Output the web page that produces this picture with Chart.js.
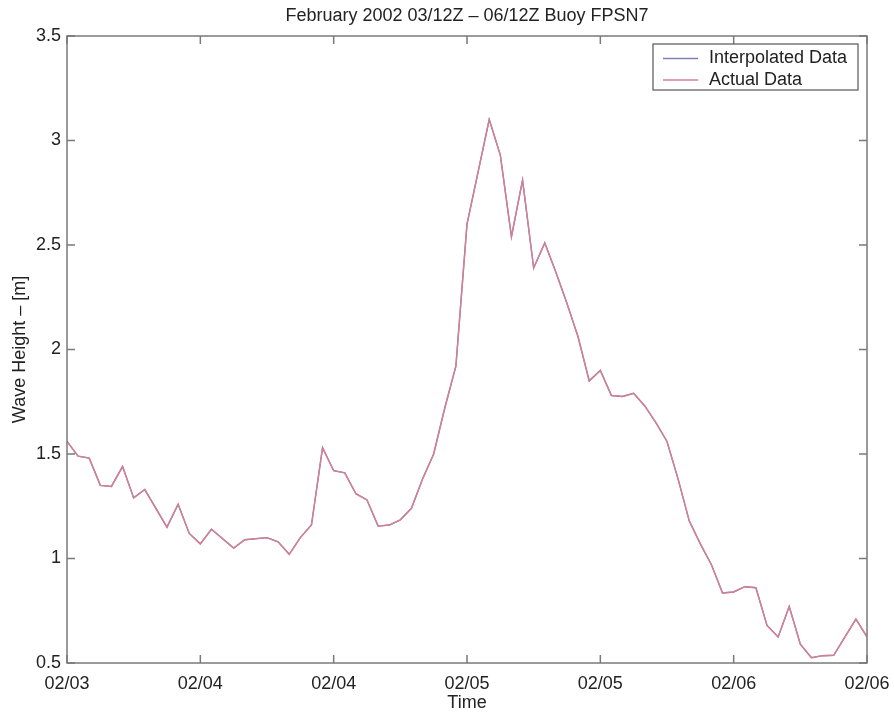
<!DOCTYPE html>
<html>
<head>
<meta charset="utf-8">
<title>Buoy FPSN7 wave height</title>
<script src="https://cdn.jsdelivr.net/npm/chart.js@4/dist/chart.umd.min.js"></script>
<style>
  html, body { margin: 0; padding: 0; background: #fff; }
  #wrap { width: 894px; height: 716px; }
</style>
</head>
<body>
<div id="wrap"><canvas id="waveChart" width="894" height="716"></canvas></div>
<script>
// hours after 02/03 12Z, and wave height [m]
var hours = [0, 1, 2, 3, 4, 5, 6, 7, 9, 10, 11, 12, 13, 15, 16, 18, 19, 20, 21, 22,
  23, 24, 25, 26, 27, 28, 29, 30, 31, 32, 33, 34, 35, 36, 37, 38, 39, 40, 41, 42,
  43, 44, 45, 46, 47, 48, 49, 50, 51, 52, 53, 54, 55, 56, 57, 58, 59, 60, 61, 62,
  63, 64, 65, 66, 67, 68, 69, 71, 72];
var waveHeight = [1.56, 1.49, 1.48, 1.35, 1.345, 1.44, 1.29, 1.33, 1.15, 1.26, 1.12, 1.07, 1.14, 1.05, 1.09, 1.10, 1.08, 1.02, 1.10, 1.16,
  1.53, 1.42, 1.41, 1.31, 1.28, 1.155, 1.16, 1.185, 1.24, 1.38, 1.50, 1.72, 1.92, 2.60, 2.85, 3.10, 2.93, 2.54, 2.81, 2.39,
  2.51, 2.37, 2.22, 2.06, 1.85, 1.90, 1.78, 1.775, 1.79, 1.73, 1.65, 1.56, 1.38, 1.18, 1.07, 0.97, 0.835, 0.84, 0.865, 0.86,
  0.68, 0.625, 0.77, 0.59, 0.525, 0.535, 0.537, 0.71, 0.625];

var xTickHours = [0, 12, 24, 36, 48, 60, 72];
var xTickLabels = ["02/03", "02/04", "02/04", "02/05", "02/05", "02/06", "02/06"];
var yTickValues = [0.5, 1, 1.5, 2, 2.5, 3, 3.5];

var TITLE = "February 2002 03/12Z \u2013 06/12Z Buoy FPSN7";
var FONT = "'Liberation Sans', Arial, Helvetica, sans-serif";
var AXIS_COLOR = "#7a7a7a";

function toPoints(xs, ys) {
  var pts = [];
  for (var i = 0; i < xs.length; i++) pts.push({ x: xs[i], y: ys[i] });
  return pts;
}

// title centred over the axes, not over the canvas
var axesTitle = {
  id: "axesTitle",
  afterDraw: function (chart) {
    var ctx = chart.ctx, a = chart.chartArea;
    ctx.save();
    ctx.font = "18px " + FONT;
    ctx.fillStyle = "#222";
    ctx.textAlign = "center";
    ctx.textBaseline = "middle";
    ctx.fillText(TITLE, (a.left + a.right) / 2, 16);
    ctx.restore();
  }
};

// box round the plot area with inward ticks on all four sides
var boxAxes = {
  id: "boxAxes",
  afterDatasetsDraw: function (chart) {
    var ctx = chart.ctx, a = chart.chartArea;
    var xs = chart.scales.x, ys = chart.scales.y;
    var len = 8;
    ctx.save();
    ctx.strokeStyle = AXIS_COLOR;
    ctx.lineWidth = 1.5;
    ctx.strokeRect(a.left, a.top, a.right - a.left, a.bottom - a.top);
    ctx.beginPath();
    for (var i = 0; i < xTickHours.length; i++) {
      var px = xs.getPixelForValue(xTickHours[i]);
      ctx.moveTo(px, a.bottom); ctx.lineTo(px, a.bottom - len);
      ctx.moveTo(px, a.top); ctx.lineTo(px, a.top + len);
    }
    for (var j = 0; j < yTickValues.length; j++) {
      var py = ys.getPixelForValue(yTickValues[j]);
      ctx.moveTo(a.left, py); ctx.lineTo(a.left + len, py);
      ctx.moveTo(a.right, py); ctx.lineTo(a.right - len, py);
    }
    ctx.stroke();
    ctx.restore();
  }
};

// MATLAB style legend with a frame, top right inside the axes
var boxLegend = {
  id: "boxLegend",
  afterDraw: function (chart) {
    var ctx = chart.ctx, a = chart.chartArea;
    var sets = chart.data.datasets;
    var w = 205, rowH = 21.5;
    var h = 46;
    var x0 = a.right - 9 - w, y0 = a.top + 8;
    ctx.save();
    ctx.fillStyle = "#fff";
    ctx.fillRect(x0, y0, w, h);
    ctx.strokeStyle = "#555";
    ctx.lineWidth = 1.2;
    ctx.strokeRect(x0, y0, w, h);
    ctx.font = "18px " + FONT;
    ctx.textBaseline = "middle";
    ctx.textAlign = "left";
    for (var i = 0; i < sets.length; i++) {
      var cy = y0 + 14.5 + i * rowH;
      ctx.strokeStyle = sets[i].borderColor;
      ctx.lineWidth = 1.3;
      ctx.beginPath();
      ctx.moveTo(x0 + 10, cy);
      ctx.lineTo(x0 + 45, cy);
      ctx.stroke();
      ctx.fillStyle = "#222";
      ctx.fillText(sets[i].label, x0 + 56, cy);
    }
    ctx.restore();
  }
};

Chart.defaults.font.family = FONT;
Chart.defaults.color = "#222";

new Chart(document.getElementById("waveChart"), {
  type: "line",
  data: {
    datasets: [
      {
        label: "Interpolated Data",
        data: toPoints(hours, waveHeight),
        borderColor: "#7f7fb8",
        borderWidth: 1.4,
        pointRadius: 0,
        tension: 0,
        order: 2
      },
      {
        label: "Actual Data",
        data: toPoints(hours, waveHeight),
        borderColor: "#d67f92",
        borderWidth: 1.4,
        pointRadius: 0,
        tension: 0,
        order: 1
      }
    ]
  },
  options: {
    responsive: false,
    animation: false,
    layout: { padding: { left: 0, right: 27, top: 36, bottom: 0 } },
    plugins: {
      legend: { display: false },
      tooltip: { enabled: false },
      title: { display: false }
    },
    scales: {
      x: {
        type: "linear",
        min: 0,
        max: 72,
        grid: { display: false, drawTicks: false },
        border: { display: false },
        afterBuildTicks: function (s) {
          s.ticks = xTickHours.map(function (v) { return { value: v }; });
        },
        afterFit: function (s) {
          s.height = 53;
          s.paddingLeft = 0;
          s.paddingRight = 0;
        },
        ticks: {
          padding: 10,
          maxRotation: 0,
          autoSkip: false,
          font: { size: 18 },
          color: "#222",
          callback: function (v) {
            var k = xTickHours.indexOf(v);
            return k < 0 ? "" : xTickLabels[k];
          }
        },
        title: {
          display: true,
          text: "Time",
          font: { size: 18 },
          color: "#222",
          padding: { top: 0, bottom: 2 }
        }
      },
      y: {
        min: 0.5,
        max: 3.5,
        grid: { display: false, drawTicks: false },
        border: { display: false },
        afterBuildTicks: function (s) {
          s.ticks = yTickValues.map(function (v) { return { value: v }; });
        },
        afterFit: function (s) { s.width = 67; },
        ticks: {
          padding: 6,
          font: { size: 18 },
          color: "#222",
          callback: function (v) { return String(v); }
        },
        title: {
          display: true,
          text: "Wave Height \u2013 [m]",
          font: { size: 18 },
          color: "#222",
          padding: { top: 9, bottom: 0 }
        }
      }
    }
  },
  plugins: [axesTitle, boxAxes, boxLegend]
});
</script>
</body>
</html>
